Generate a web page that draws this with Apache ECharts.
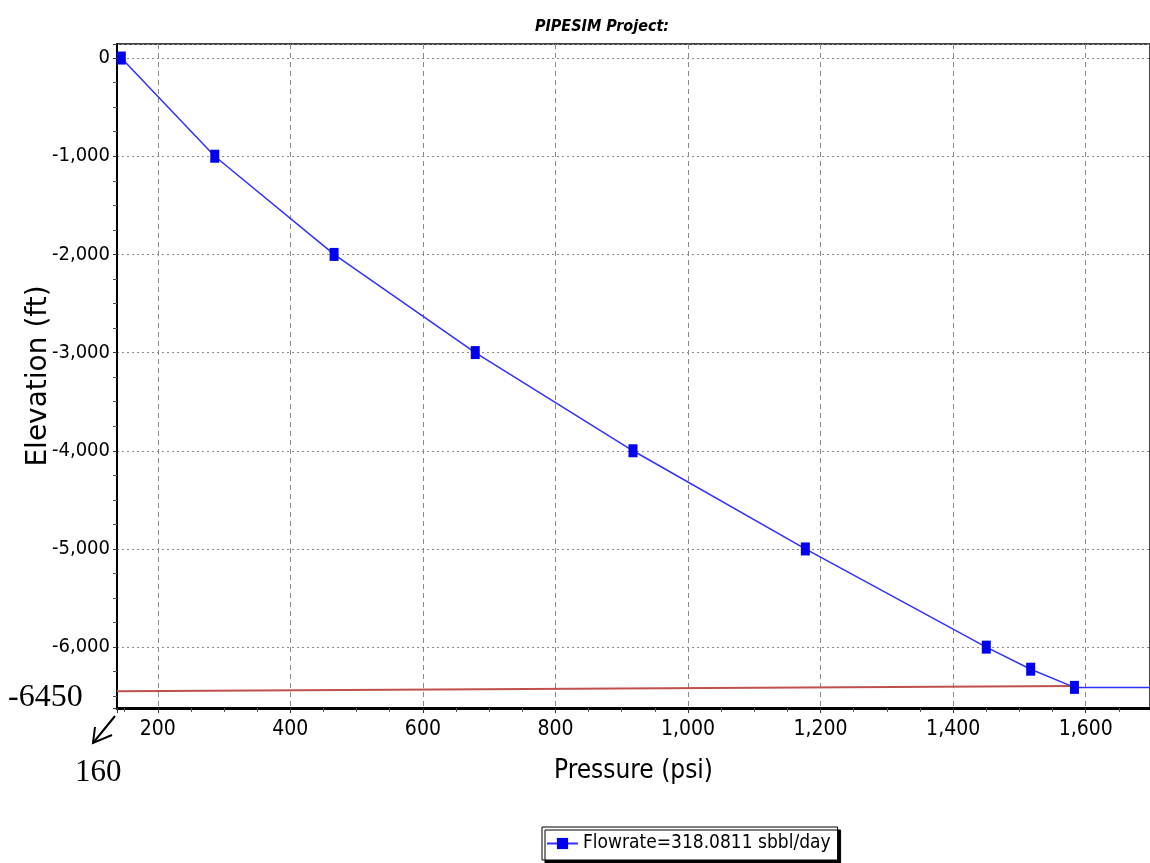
<!DOCTYPE html>
<html>
<head>
<meta charset="utf-8">
<script src="https://cdn.jsdelivr.net/npm/echarts@6/dist/echarts.min.js"></script>
<style>
html,body{margin:0;padding:0;background:#fff;}
#chart{width:1150px;height:863px;}
</style>
</head>
<body>
<div id="chart"></div>
<script>
// ---- data ----
const pressure = [145, 286, 466, 679, 917, 1177, 1450, 1517, 1583];
const elevation = [0, -1000, -2000, -3000, -4000, -5000, -6000, -6225, -6410];
const extensionPressure = [1583, 1720];
const extensionElevation = [-6410, -6410];
const refPressure = [138.5, 1583];
const refElevation = [-6450, -6395];
const seriesName = 'Flowrate=318.0811 sbbl/day';
const titleText = 'PIPESIM Project:';
const xName = 'Pressure (psi)';
const yName = 'Elevation (ft)';
const noteY = '-6450';
const noteX = '160';

const NARROW = '"Liberation Sans Narrow", "Arial Narrow", "DejaVu Sans Condensed", sans-serif';
const zip = (a, b) => a.map((v, i) => [v, b[i]]);
const fmt = v => Number(v).toLocaleString('en-US');

const chart = echarts.init(document.getElementById('chart'));
chart.setOption({
  backgroundColor: '#ffffff',
  animation: false,
  title: {
    text: titleText,
    left: 597, top: 14, textAlign: 'center',
    textStyle: {fontFamily: NARROW, fontSize: 16, fontWeight: 'bold', fontStyle: 'italic', color: '#000'}
  },
  legend: {
    data: [seriesName],
    left: 542, top: 827,
    padding: [7, 7, 7, 4],
    itemWidth: 31, itemHeight: 14,
    backgroundColor: '#fff',
    borderColor: '#000', borderWidth: 1,
    shadowColor: '#000', shadowBlur: 0, shadowOffsetX: 3, shadowOffsetY: 3,
    textStyle: {fontFamily: NARROW, fontSize: 19, color: '#000'}
  },
  grid: {
    left: 117, top: 44, right: -6, bottom: 155,
    show: true, borderColor: '#444', borderWidth: 2, backgroundColor: '#fff'
  },
  xAxis: {
    type: 'value',
    min: 138.5, max: 1697,
    minInterval: 200, maxInterval: 200,
    name: xName, nameLocation: 'middle', nameGap: 50, nameMoveOverlap: false,
    nameTextStyle: {fontFamily: NARROW, fontSize: 26, color: '#000'},
    axisLine: {show: true, onZero: false, lineStyle: {color: '#000', width: 3}},
    axisTick: {show: true, length: 5, lineStyle: {color: '#333'}},
    minorTick: {show: true, splitNumber: 4, length: 4, lineStyle: {color: '#555'}},
    axisLabel: {fontFamily: NARROW, fontSize: 21, color: '#000', margin: 11,
      showMinLabel: false, showMaxLabel: false, formatter: fmt},
    splitLine: {show: true, lineStyle: {color: '#8a8a8a', width: 1, type: [5, 4]}}
  },
  yAxis: {
    type: 'value',
    min: -6620, max: 143,
    minInterval: 1000, maxInterval: 1000,
    name: yName, nameLocation: 'middle', nameRotate: 90, nameGap: 64, nameMoveOverlap: false,
    nameTextStyle: {fontFamily: '"DejaVu Sans", sans-serif', fontSize: 28, color: '#000'},
    axisLine: {show: true, onZero: false, lineStyle: {color: '#000', width: 2}},
    axisTick: {show: true, length: 4, lineStyle: {color: '#333'}},
    minorTick: {show: true, splitNumber: 4, length: 4, lineStyle: {color: '#555'}},
    axisLabel: {fontFamily: NARROW, fontSize: 20, color: '#000', margin: 7,
      showMinLabel: false, showMaxLabel: false, formatter: fmt},
    splitLine: {show: true, lineStyle: {color: '#8a8a8a', width: 1, type: [2, 3]}}
  },
  series: [
    {
      name: 'reference', type: 'line', data: zip(refPressure, refElevation),
      symbol: 'none', clip: false, silent: true,
      lineStyle: {color: '#c0504d', width: 2}, z: 3
    },
    {
      name: 'extension', type: 'line', data: zip(extensionPressure, extensionElevation),
      symbol: 'none', silent: true,
      lineStyle: {color: '#3030ff', width: 1.5}, z: 2
    },
    {
      name: seriesName, type: 'line', data: zip(pressure, elevation),
      symbol: 'rect', symbolSize: [9, 13],
      itemStyle: {color: '#0000ee'},
      lineStyle: {color: '#3030ff', width: 1.5}, z: 4
    }
  ],
  graphic: [
    {type: 'text', left: 8, top: 682, style: {text: noteY, font: '32px "Liberation Serif", "Times New Roman", serif', fill: '#000'}},
    {type: 'text', left: 75, top: 757, style: {text: noteX, font: '31px "Liberation Serif", "Times New Roman", serif', fill: '#000'}},
    {type: 'polyline', shape: {points: [[115, 716], [93, 743]]}, style: {stroke: '#000', lineWidth: 2, fill: null}},
    {type: 'polyline', shape: {points: [[95, 727], [93, 743], [112, 735]]}, style: {stroke: '#000', lineWidth: 2, fill: null}}
  ]
});
</script>
</body>
</html>
